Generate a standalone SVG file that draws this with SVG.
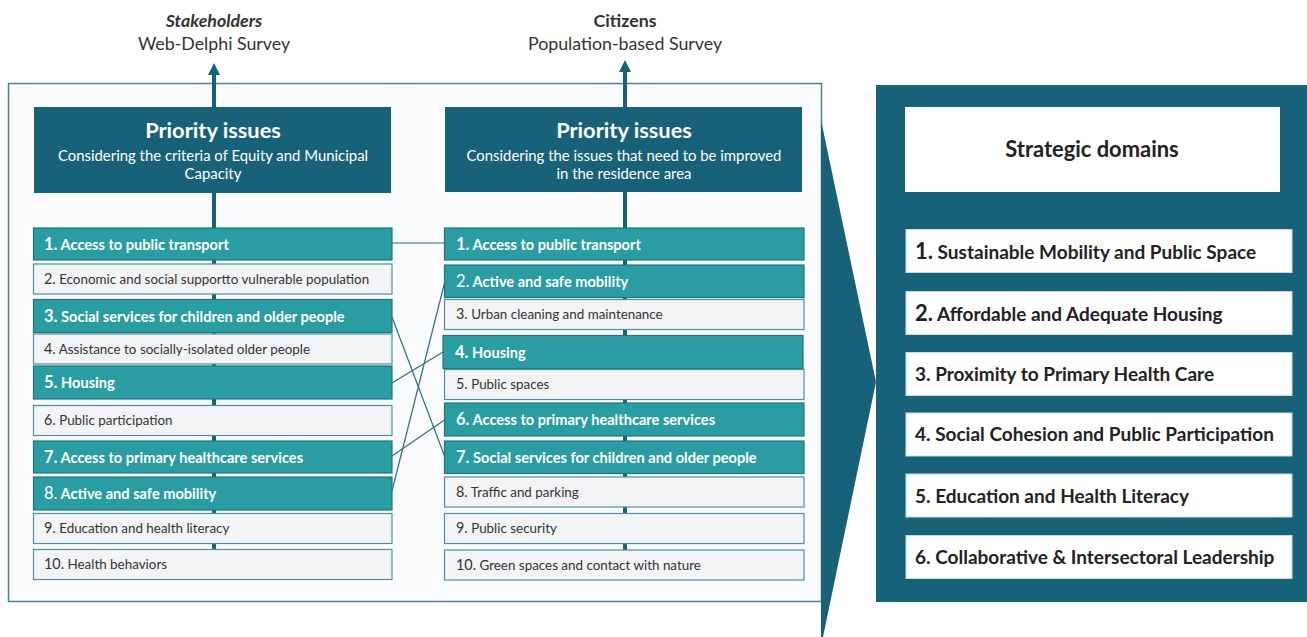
<svg xmlns="http://www.w3.org/2000/svg" width="1307" height="637" viewBox="0 0 1307 637">
<style>
text{font-family:Lato,"Liberation Sans",sans-serif}
.top{font-size:17.8px;fill:#333;text-anchor:middle}
.hdr{fill:#186279}
.ht{font-size:21.8px;font-weight:bold;fill:#fff;text-anchor:middle}
.hs{font-size:14.9px;fill:#fff;text-anchor:middle}
.teal{fill:#2a9da2;stroke:#1d7582;stroke-width:1.2}
.light{fill:#f3f4f6;stroke:#4f8fa1;stroke-width:1.2}
.tt{font-size:14.6px;font-weight:bold;fill:#fff}
.tn{font-size:16.5px;font-weight:bold;fill:#fff}
.tr{font-weight:normal}
.lt{font-size:13.4px;fill:#333}
.ln{font-size:14.4px}
.stem{stroke:#186279;stroke-width:4}
.con{stroke:#2d6f84;stroke-width:1.2;fill:none}
.dom{fill:#fff;stroke:#c9d9df;stroke-width:1}
.dt{font-size:19px;font-weight:bold;fill:#222}
.dn{font-size:22px}
</style>
<defs>
<marker id="ah" markerWidth="14" markerHeight="12" refX="0" refY="6" orient="auto" markerUnits="userSpaceOnUse">
<path d="M0,0 L12,6 L0,12 Z" fill="#186279"/>
</marker>
</defs>

<g id="labels">
<text class="top" x="214" y="27" font-weight="bold" font-style="italic">Stakeholders</text>
<text class="top" x="214" y="50">Web-Delphi Survey</text>
<text class="top" x="625" y="27" font-weight="bold">Citizens</text>
<text class="top" x="625" y="50">Population-based Survey</text>
</g>

<g id="container">
<rect x="8.5" y="83.5" width="813" height="518" fill="#f9fbfd" stroke="#4a8494" stroke-width="1.5"/>
</g>

<g id="stems">
<line class="stem" x1="214" y1="580" x2="214" y2="75" marker-end="url(#ah)"/>
<line class="stem" x1="625" y1="580" x2="625" y2="72" marker-end="url(#ah)"/>
</g>

<g id="header-left">
<rect class="hdr" x="34" y="107" width="357" height="86"/>
<text class="ht" x="213" y="138">Priority issues</text>
<text class="hs" x="213" y="161">Considering the criteria of Equity and Municipal</text>
<text class="hs" x="213" y="179">Capacity</text>
</g>
<g id="header-right">
<rect class="hdr" x="445" y="107" width="357" height="85"/>
<text class="ht" x="624" y="138">Priority issues</text>
<text class="hs" x="624" y="161">Considering the issues that need to be improved</text>
<text class="hs" x="624" y="179">in the residence area</text>
</g>

<g id="left-list">
<g id="l1"><rect class="teal" x="33.5" y="228" width="358.5" height="32"/><text class="tt" x="44" y="249.5"><tspan class="tn">1.</tspan> Access to public transport</text></g>
<g id="l2"><rect class="light" x="33.5" y="264" width="358.5" height="30"/><text class="lt" x="44" y="283.5"><tspan class="ln">2.</tspan> Economic and social supportto vulnerable population</text></g>
<g id="l3"><rect class="teal" x="33.5" y="299.5" width="358.5" height="33"/><text class="tt" x="44" y="321.5"><tspan class="tn">3.</tspan> Social services for children and older people</text></g>
<g id="l4"><rect class="light" x="33.5" y="334" width="358.5" height="30"/><text class="lt" x="44" y="353.5"><tspan class="ln">4.</tspan> Assistance to socially-isolated older people</text></g>
<g id="l5"><rect class="teal" x="33.5" y="366" width="358.5" height="33"/><text class="tt" x="44" y="388"><tspan class="tn">5.</tspan> Housing</text></g>
<g id="l6"><rect class="light" x="33.5" y="405.5" width="358.5" height="30"/><text class="lt" x="44" y="425"><tspan class="ln">6.</tspan> Public participation</text></g>
<g id="l7"><rect class="teal" x="33.5" y="441" width="358.5" height="32"/><text class="tt" x="44" y="462.5"><tspan class="tn">7.</tspan> Access to primary healthcare services</text></g>
<g id="l8"><rect class="teal" x="33.5" y="477" width="358.5" height="33"/><text class="tt" x="44" y="499"><tspan class="tn tr">8.</tspan> Active and safe mobility</text></g>
<g id="l9"><rect class="light" x="33.5" y="513.5" width="358.5" height="30"/><text class="lt" x="44" y="533"><tspan class="ln">9.</tspan> Education and health literacy</text></g>
<g id="l10"><rect class="light" x="33.5" y="549.5" width="358.5" height="30"/><text class="lt" x="44" y="569"><tspan class="ln">10.</tspan> Health behaviors</text></g>
</g>

<g id="right-list">
<g id="r1"><rect class="teal" x="444.5" y="228" width="359.5" height="32"/><text class="tt" x="456" y="249.5"><tspan class="tn">1.</tspan> Access to public transport</text></g>
<g id="r2"><rect class="teal" x="444.5" y="265" width="359.5" height="32.5"/><text class="tt" x="456" y="286.5"><tspan class="tn tr">2.</tspan> Active and safe mobility</text></g>
<g id="r3"><rect class="light" x="444.5" y="299.5" width="359.5" height="30"/><text class="lt" x="456" y="319"><tspan class="ln">3.</tspan> Urban cleaning and maintenance</text></g>
<g id="r4"><rect class="teal" x="443" y="335.5" width="360" height="33"/><text class="tt" x="455" y="357.5"><tspan class="tn">4.</tspan> Housing</text></g>
<g id="r5"><rect class="light" x="444.5" y="369.5" width="359.5" height="30"/><text class="lt" x="456" y="389"><tspan class="ln">5.</tspan> Public spaces</text></g>
<g id="r6"><rect class="teal" x="444.5" y="403" width="359.5" height="33"/><text class="tt" x="456" y="425"><tspan class="tn">6.</tspan> Access to primary healthcare services</text></g>
<g id="r7"><rect class="teal" x="444.5" y="441" width="359.5" height="32.5"/><text class="tt" x="456" y="462.5"><tspan class="tn">7.</tspan> Social services for children and older people</text></g>
<g id="r8"><rect class="light" x="444.5" y="477" width="359.5" height="30"/><text class="lt" x="456" y="496.5"><tspan class="ln">8.</tspan> Traffic and parking</text></g>
<g id="r9"><rect class="light" x="444.5" y="513.5" width="359.5" height="30"/><text class="lt" x="456" y="533"><tspan class="ln">9.</tspan> Public security</text></g>
<g id="r10"><rect class="light" x="444.5" y="550" width="359.5" height="30"/><text class="lt" x="456" y="569.5"><tspan class="ln">10.</tspan> Green spaces and contact with nature</text></g>
</g>

<g id="connectors">
<line class="con" x1="392" y1="243" x2="444.5" y2="243"/>
<line class="con" x1="392" y1="317" x2="444.5" y2="456"/>
<line class="con" x1="392" y1="383" x2="443" y2="352"/>
<line class="con" x1="392" y1="456" x2="444.5" y2="420"/>
<line class="con" x1="392" y1="491" x2="444.5" y2="283"/>
</g>

<g id="chevron">
<polygon points="821,120 876,382 823,637 821,637" fill="#186279"/>
</g>

<g id="strategic-panel">
<rect x="876" y="85" width="431" height="517" fill="#186279"/>
<g id="sd-title"><rect x="905" y="107" width="375" height="85" fill="#fff"/><text x="1092" y="157" font-size="21.9" font-weight="bold" fill="#222" text-anchor="middle">Strategic domains</text></g>
<g id="d1"><rect class="dom" x="906" y="229.5" width="386" height="43"/><text class="dt" x="915" y="258.5"><tspan class="dn">1.</tspan> Sustainable Mobility and Public Space</text></g>
<g id="d2"><rect class="dom" x="906" y="291.5" width="386" height="43"/><text class="dt" x="915" y="320.5"><tspan class="dn">2.</tspan> Affordable and Adequate Housing</text></g>
<g id="d3"><rect class="dom" x="906" y="352.5" width="386" height="43"/><text class="dt" x="915" y="381">3. Proximity to Primary Health Care</text></g>
<g id="d4"><rect class="dom" x="906" y="413" width="386" height="43"/><text class="dt" x="915" y="441">4. Social Cohesion and Public Participation</text></g>
<g id="d5"><rect class="dom" x="906" y="474" width="386" height="43"/><text class="dt" x="915" y="502.5">5. Education and Health Literacy</text></g>
<g id="d6"><rect class="dom" x="906" y="535.5" width="386" height="43"/><text class="dt" x="915" y="563.5">6. Collaborative &amp; Intersectoral Leadership</text></g>
</g>
</svg>
